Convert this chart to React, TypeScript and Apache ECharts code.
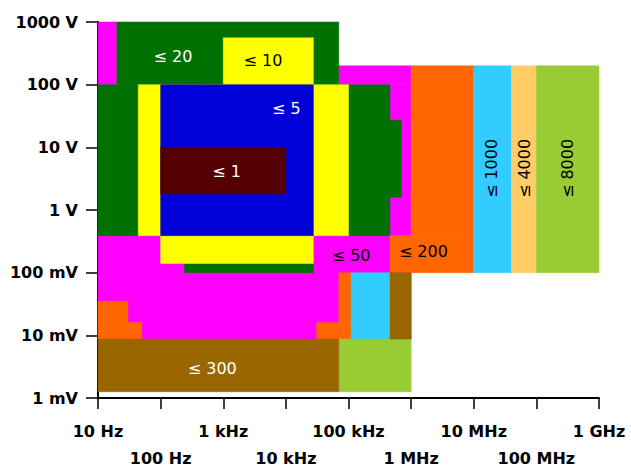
import React, { useEffect, useRef } from "react";
import * as echarts from "echarts";

// Tick labels
const freqTickLabels = ["10 Hz", "100 Hz", "1 kHz", "10 kHz", "100 kHz", "1 MHz", "10 MHz", "100 MHz", "1 GHz"];
const voltTickLabels = ["1 mV", "10 mV", "100 mV", "1 V", "10 V", "100 V", "1000 V"];

// Regions: [freqLow Hz, freqHigh Hz, voltLow V, voltHigh V], painted in the order below
const magentaRegions = [
  [10, 1e6, 0.0087, 100],
  [70e3, 1e6, 100, 200],
  [10, 20, 100, 1000],
];
const darkGreenRegions = [
  [20, 70e3, 100, 1000],
  [10, 460e3, 0.39, 100],
  [460e3, 700e3, 1.6, 27],
  [240, 27.5e3, 0.1, 0.14],
];
const yellowRegions = [
  [1e3, 27.5e3, 100, 560],
  [44, 100e3, 0.39, 100],
  [100, 27.5e3, 0.14, 0.39],
];
const blueRegions = [[100, 27.5e3, 0.39, 100]];
const darkRedRegions = [[100, 10e3, 1.8, 10]];
const orangeRegions = [
  [460e3, 10e6, 0.1, 0.39],
  [1e6, 10e6, 0.39, 200],
  [70e3, 110e3, 0.0087, 0.1],
  [10, 30, 0.0087, 0.035],
  [30, 50, 0.0087, 0.016],
  [31e3, 70e3, 0.0087, 0.016],
];
const cyanRegions = [
  [10e6, 40e6, 0.1, 200],
  [110e3, 460e3, 0.0087, 0.1],
];
const lightOrangeRegions = [[40e6, 100e6, 0.1, 200]];
const lightGreenRegions = [
  [100e6, 1e9, 0.1, 200],
  [70e3, 1e6, 0.00126, 0.0087],
];
const brownRegions = [
  [460e3, 1e6, 0.0087, 0.1],
  [10, 70e3, 0.00126, 0.0087],
];

// Region labels (ppm limits) at data coordinates
const labelTexts = ["≤ 20", "≤ 10", "≤ 5", "≤ 1", "≤ 50", "≤ 200", "≤ 300", "≤ 1000", "≤ 4000", "≤ 8000"];
const labelFreqs = [157, 4.3e3, 10.2e3, 1.13e3, 110e3, 1.57e6, 667, 19.3e6, 64.7e6, 319e6];
const labelVolts = [286, 240, 42, 4.14, 0.186, 0.214, 0.00292, 4.6, 4.6, 4.6];
const labelVertical = [false, false, false, false, false, false, false, true, true, true];
const labelDark = [false, true, false, false, true, true, false, true, true, true];

const layers: [number[][], string][] = [
  [magentaRegions, "#ff00ff"],
  [darkGreenRegions, "#007000"],
  [yellowRegions, "#ffff00"],
  [blueRegions, "#0000d8"],
  [darkRedRegions, "#550000"],
  [orangeRegions, "#ff6600"],
  [cyanRegions, "#33ccff"],
  [lightOrangeRegions, "#ffcc66"],
  [lightGreenRegions, "#99cc33"],
  [brownRegions, "#996600"],
];

export default function App() {
  const ref = useRef<HTMLDivElement>(null);
  useEffect(() => {
    if (!ref.current) return;
    const chart = echarts.init(ref.current, null, { renderer: "svg" });
    const palette = layers.map((l) => l[1]);
    const rectData: number[][] = [];
    layers.forEach(([regs], ci) => {
      regs.forEach((r) => rectData.push([r[0], r[1], r[2], r[3], ci]));
    });
    const labelData = labelTexts.map((_, i) => [labelFreqs[i], labelVolts[i], i]);
    const axisFont = { fontFamily: "DejaVu Sans", fontWeight: "bold" as const, fontSize: 16, color: "#000" };
    const freqIdx = (v: number) => Math.round(Math.log10(v)) - 1;

    const baseX = {
      type: "log" as const,
      logBase: 10,
      min: 10,
      max: 1e9,
      splitNumber: 8,
      position: "bottom" as const,
      splitLine: { show: false },
    };

    chart.setOption({
      animation: false,
      grid: { left: 98, right: 32, top: 22, bottom: 70 },
      xAxis: [
        {
          ...baseX,
          axisLine: { show: true, lineStyle: { color: "#000", width: 2 } },
          axisTick: { show: true, length: 11, lineStyle: { color: "#000", width: 1.5 } },
          axisLabel: {
            ...axisFont,
            interval: 0,
            margin: 25,
            showMinLabel: true,
            showMaxLabel: true,
            hideOverlap: false,
            formatter: (v: number) => {
              const i = freqIdx(v);
              return i % 2 === 0 ? freqTickLabels[i] ?? "" : "";
            },
          },
        },
        {
          ...baseX,
          axisLine: { show: false },
          axisTick: { show: false },
          axisLabel: {
            ...axisFont,
            interval: 0,
            margin: 52,
            showMinLabel: true,
            showMaxLabel: true,
            hideOverlap: false,
            formatter: (v: number) => {
              const i = freqIdx(v);
              return i % 2 === 1 ? freqTickLabels[i] ?? "" : "";
            },
          },
        },
      ],
      yAxis: {
        type: "log",
        logBase: 10,
        min: 0.001,
        max: 1000,
        splitNumber: 6,
        axisLine: { show: true, lineStyle: { color: "#000", width: 2 } },
        axisTick: { show: true, length: 12, lineStyle: { color: "#000", width: 1.5 } },
        splitLine: { show: false },
        axisLabel: {
          ...axisFont,
          interval: 0,
          margin: 20,
          showMinLabel: true,
          showMaxLabel: true,
          formatter: (v: number) => voltTickLabels[Math.round(Math.log10(v)) + 3] ?? "",
        },
      },
      series: [
        {
          type: "custom",
          xAxisIndex: 0,
          dimensions: ["f1", "f2", "v1", "v2", "c"],
          encode: { x: [0, 1], y: [2, 3] },
          data: rectData,
          z: 1,
          renderItem: (params: any, api: any) => {
            const p1 = api.coord([api.value(0), api.value(3)]);
            const p2 = api.coord([api.value(1), api.value(2)]);
            const col = palette[api.value(4)];
            return {
              type: "rect",
              shape: { x: p1[0], y: p1[1], width: p2[0] - p1[0], height: p2[1] - p1[1] },
              style: { fill: col, stroke: col, lineWidth: 0.5 },
            };
          },
        },
        {
          type: "custom",
          xAxisIndex: 0,
          dimensions: ["f", "v", "i"],
          encode: { x: 0, y: 1 },
          data: labelData,
          z: 5,
          renderItem: (params: any, api: any) => {
            const i = api.value(2);
            const p = api.coord([api.value(0), api.value(1)]);
            return {
              type: "text",
              x: p[0],
              y: p[1],
              rotation: labelVertical[i] ? Math.PI / 2 : 0,
              style: {
                text: labelTexts[i],
                x: 0,
                y: 0,
                fill: labelDark[i] ? "#000" : "#fff",
                font: "16px 'DejaVu Sans'",
                align: "center",
                verticalAlign: "middle",
              },
            };
          },
        },
      ],
    });
    return () => chart.dispose();
  }, []);
  return (
    <div
      ref={ref}
      style={{ position: "fixed", left: 0, top: 0, width: 631, height: 468, background: "#fff" }}
    />
  );
}
